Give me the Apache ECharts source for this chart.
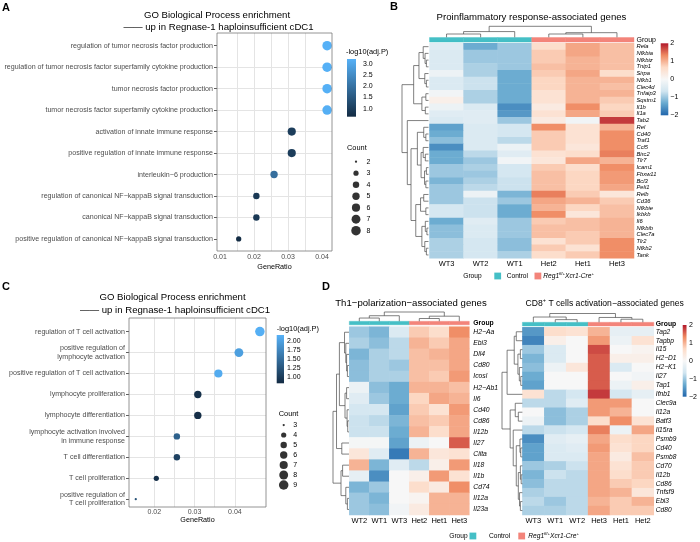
<!DOCTYPE html>
<html>
<head>
<meta charset="utf-8">
<script src="https://cdn.jsdelivr.net/npm/echarts@6/dist/echarts.min.js"></script>
<style>
  html, body { margin: 0; padding: 0; background: #fff; }
  #chart { width: 700px; height: 542px; }
</style>
</head>
<body>
<div id="chart"></div>
<script>
"use strict";
const FONT = '"Liberation Sans", Arial, Helvetica, sans-serif';
const GREY_TXT = '#4d4d4d';
const NAVY = ['#132B43', '#56B1F7'];
const RDBU = ['#2166AC', '#67A9CF', '#D1E5F0', '#F7F7F7', '#FDDBC7', '#EF8A62', '#B2182B'];
const GROUP_COLORS = ['#45BFC6', '#F3847A'];

// ---- panel A : GO enrichment dot plot ----
const termsA = [
  'regulation of tumor necrosis factor production',
  'regulation of tumor necrosis factor superfamily cytokine production',
  'tumor necrosis factor production',
  'tumor necrosis factor superfamily cytokine production',
  'activation of innate immune response',
  'positive regulation of innate immune response',
  'interleukin\u22126 production',
  'regulation of canonical NF\u2212kappaB signal transduction',
  'canonical NF\u2212kappaB signal transduction',
  'positive regulation of canonical NF\u2212kappaB signal transduction'
];
const ratioA = [0.0415, 0.0415, 0.0415, 0.0415, 0.0311, 0.0311, 0.0259, 0.0207, 0.0207, 0.0155];
const logpA = [3.22, 3.2, 3.2, 3.18, 0.98, 0.98, 1.93, 0.9, 0.9, 0.65];
const countA = [8, 8, 8, 8, 6, 6, 5, 4, 4, 3];
const ratioTicksA = [0.01, 0.02, 0.03, 0.04];
const padjTicksA = [1.0, 1.5, 2.0, 2.5, 3.0];
const countBreaksA = [2, 3, 4, 5, 6, 7, 8];

// ---- panel C : GO enrichment dot plot ----
const termsC = [
  'regulation of T cell activation',
  'positive regulation of\nlymphocyte activation',
  'positive regulation of T cell activation',
  'lymphocyte proliferation',
  'lymphocyte differentiation',
  'lymphocyte activation involved\nin immune response',
  'T cell differentiation',
  'T cell proliferation',
  'positive regulation of\nT cell proliferation'
];
const ratioC = [0.0462, 0.041, 0.0359, 0.0308, 0.0308, 0.0256, 0.0256, 0.0205, 0.0154];
const logpC = [2.14, 1.98, 2.1, 0.88, 0.85, 1.36, 1.05, 0.86, 1.2];
const countC = [9, 8, 7, 6, 6, 5, 5, 4, 3];
const ratioTicksC = [0.02, 0.03, 0.04];
const padjTicksC = [1.0, 1.25, 1.5, 1.75, 2.0];
const countBreaksC = [3, 4, 5, 6, 7, 8, 9];

const zTicks = [-2, -1, 0, 1, 2];

// ---- panel B : heatmap ----
const colsB = ['WT3', 'WT2', 'WT1', 'Het2', 'Het1', 'Het3'];
const genesB = ['Rela', 'Nfkbia', 'Nfkbiz', 'Tnip1', 'Sirpa', 'Nfkb1', 'Clec4d', 'Tnfaip3', 'Sqstm1', 'Il1b', 'Il1a',
  'Tab2', 'Rel', 'Cd40', 'Traf1', 'Ccl5', 'Birc2', 'Tlr7', 'Icam1', 'Fbxw11', 'Bcl3', 'Peli1', 'Relb', 'Cd36',
  'Nfkbie', 'Ikbkb', 'Il6', 'Nfkbib', 'Clec7a', 'Tlr2', 'Nfkb2', 'Tank'];
const valsB = [
  [-0.4, -1.3, -1.0, 0.6, 1.1, 0.9],
  [-0.5, -1.0, -1.0, 0.8, 1.1, 0.9],
  [-0.5, -1.0, -1.0, 0.8, 1.0, 0.9],
  [-0.5, -0.9, -1.0, 0.9, 1.0, 0.9],
  [-0.2, -0.9, -1.3, 0.8, 1.1, 0.6],
  [-0.5, -0.7, -1.3, 0.7, 1.0, 1.0],
  [-0.5, -0.7, -1.3, 0.7, 1.0, 0.9],
  [-0.1, -0.9, -1.3, 0.5, 1.0, 1.0],
  [0.2, -0.9, -1.3, 0.5, 1.0, 0.8],
  [-0.2, -0.5, -1.6, 0.3, 1.3, 0.7],
  [-0.4, -0.4, -1.5, 0.5, 1.1, 0.8],
  [-0.5, -0.4, -1.0, 0.3, -0.1, 1.8],
  [-1.4, -0.5, -0.6, 1.3, 0.5, 1.0],
  [-1.3, -0.5, -0.6, 0.8, 0.5, 1.3],
  [-1.1, -0.5, -0.8, 0.8, 0.5, 1.3],
  [-1.6, -0.5, -0.2, 0.8, 0.4, 1.3],
  [-1.3, -0.8, -0.4, 0.5, 0.6, 1.4],
  [-1.3, -1.0, -0.1, 0.4, 1.1, 1.0],
  [-1.0, -0.9, -0.6, 0.8, 0.6, 1.3],
  [-1.0, -1.0, -0.6, 0.9, 0.7, 1.2],
  [-1.2, -0.9, -0.7, 0.9, 0.7, 1.2],
  [-1.0, -0.8, -0.7, 0.9, 0.7, 1.1],
  [-1.0, -0.2, -1.2, 1.4, 0.8, 0.4],
  [-1.0, -0.7, -1.0, 1.1, 1.0, 0.8],
  [-0.6, -0.7, -1.3, 1.0, 0.7, 0.9],
  [-0.6, -0.7, -1.3, 1.3, 0.4, 0.9],
  [-1.3, -0.4, -1.0, 0.8, 0.9, 1.0],
  [-1.1, -0.5, -1.0, 0.9, 0.9, 1.0],
  [-1.1, -0.5, -1.0, 0.9, 0.8, 1.0],
  [-0.9, -0.6, -1.1, 0.5, 0.8, 1.3],
  [-0.9, -0.6, -1.1, 0.8, 0.5, 1.3],
  [-0.9, -0.6, -0.9, 0.6, 0.8, 1.3]
];
// dendrograms: leaf = row/col index, node = [left, right, height]
const rowTreeB = [
  [[[0, [1, [2, 3, 0.08], 0.13], 0.2], [4, [5, 6, 0.08], 0.14], 0.36], [[7, 8, 0.1], [9, 10, 0.12], 0.25], 0.56],
  [11, [[[12, [13, 14, 0.1], 0.18], [[15, [16, 17, 0.12], 0.2], [[18, 19, 0.08], [20, 21, 0.1], 0.15], 0.28], 0.42],
        [[[22, 23, 0.18], [24, 25, 0.1], 0.3], [[26, [27, 28, 0.06], 0.12], [29, [30, 31, 0.08], 0.14], 0.25], 0.48], 0.66], 0.8],
  1.0];
const colTreeB = [[[0, 1, 0.3], 2, 0.52], [[3, 4, 0.3], 5, 0.42], 1.0];

// ---- panel D : two heatmaps ----
const colsD1 = ['WT2', 'WT1', 'WT3', 'Het2', 'Het1', 'Het3'];
const genesD1 = ['H2\u2212Aa', 'Ebi3', 'Dll4', 'Cd80', 'Icosl', 'H2\u2212Ab1', 'Il6', 'Cd40', 'Cd86', 'Il12b', 'Il27',
  'Ciita', 'Il18', 'Il1b', 'Cd74', 'Il12a', 'Il23a'];
const valsD1 = [
  [-1.0, -1.2, -0.5, 0.8, 0.6, 1.3],
  [-0.9, -1.1, -0.8, 1.0, 0.8, 1.1],
  [-1.2, -0.9, -0.8, 0.9, 1.0, 1.1],
  [-1.1, -0.9, -1.0, 0.9, 0.9, 1.1],
  [-1.1, -0.9, -0.9, 0.9, 0.8, 1.2],
  [-0.2, -1.1, -1.3, 1.0, 1.0, 0.9],
  [-0.4, -1.0, -1.3, 0.7, 1.1, 1.0],
  [-0.6, -0.6, -1.4, 0.8, 0.5, 1.2],
  [-0.7, -0.8, -1.2, 0.9, 0.8, 1.1],
  [-0.7, -0.7, -1.3, 1.0, 0.6, 1.1],
  [-0.05, -0.05, -1.4, -0.2, 0.0, 1.6],
  [0.4, -0.4, -1.8, 1.0, 0.4, 0.5],
  [1.0, -1.2, -0.4, -0.8, 0.2, 1.2],
  [-0.3, -1.6, 0.0, 0.2, 1.2, 0.5],
  [-1.2, -1.0, 0.0, 0.6, 0.3, 1.3],
  [-1.0, -1.2, 0.0, 0.1, 1.0, 1.0],
  [-1.0, -1.1, -0.1, 0.3, 1.0, 1.0]
];
const rowTreeD1 = [
  [[[0, [1, [2, [3, 4, 0.1], 0.15], 0.2], 0.28], [[5, 6, 0.15], [7, [8, 9, 0.08], 0.12], 0.25], 0.6], [10, 11, 0.45], 0.78],
  [[12, 13, 0.4], [14, [15, 16, 0.1], 0.2], 0.5],
  1.0];
const colTreeD1 = [[[0, 1, 0.35], 2, 0.6], [[3, 4, 0.3], 5, 0.55], 1.0];

const colsD2 = ['WT3', 'WT1', 'WT2', 'Het3', 'Het1', 'Het2'];
const genesD2 = ['Tap2', 'Tapbp', 'Il15', 'H2\u2212D1', 'H2\u2212K1', 'Il27', 'Tap1', 'Ifnb1', 'Clec9a', 'Il12a', 'Batf3',
  'Il15ra', 'Psmb9', 'Cd40', 'Psmb8', 'Cd70', 'Il12b', 'Cd86', 'Tnfsf9', 'Ebi3', 'Cd80'];
const valsD2 = [
  [-1.5, 0.6, 0.5, 1.0, -0.3, -0.3],
  [-1.7, 0.2, 0.0, 1.2, -0.2, 0.5],
  [-1.0, -0.5, 0.0, 1.7, 0.0, 0.1],
  [-1.2, -0.5, 0.0, 1.6, 0.2, 0.2],
  [-1.1, -0.2, 0.4, 1.6, -0.5, 0.0],
  [-1.3, 0.0, 0.0, 1.6, 0.0, -0.1],
  [-1.4, 0.0, 0.0, 1.6, -0.2, 0.2],
  [0.5, -0.8, -0.6, 1.8, -0.6, -0.3],
  [-0.8, -0.8, -0.4, 1.2, 1.2, 0.0],
  [0.0, -1.1, -0.9, 1.2, 1.0, 0.0],
  [-0.2, -1.1, -0.9, 0.6, 1.3, 0.5],
  [-0.8, -0.7, -0.6, 1.4, -0.2, 1.1],
  [-1.6, -0.4, -0.3, 1.1, 0.6, 0.7],
  [-1.4, -0.5, -0.4, 1.2, 0.5, 0.7],
  [-1.4, -0.5, -0.5, 1.1, 0.3, 0.9],
  [-1.0, -0.9, -0.7, 1.1, 0.5, 0.8],
  [-1.2, -0.7, -0.8, 1.1, 0.6, 0.8],
  [-1.1, -0.8, -0.8, 1.1, 0.8, 0.7],
  [-0.9, -0.8, -0.8, 1.1, 1.0, 0.4],
  [-0.8, -1.0, -0.8, 1.0, 0.8, 1.0],
  [-0.9, -0.9, -0.8, 1.1, 0.8, 0.8]
];
const rowTreeD2 = [
  [[[0, 1, 0.3], [[2, 3, 0.1], [4, [5, 6, 0.08], 0.15], 0.22], 0.4], 7, 0.75],
  [[8, [9, 10, 0.2], 0.35], [11, [[12, [13, 14, 0.08], 0.12], [[15, [16, 17, 0.06], 0.1], [18, [19, 20, 0.1], 0.14], 0.2], 0.3], 0.45], 0.6],
  1.0];
const colTreeD2 = [[0, [1, 2, 0.3], 0.6], [3, [4, 5, 0.35], 0.55], 1.0];

// ------------------------------------------------------------------
const grids = [], xAxes = [], yAxes = [], series = [], graphics = [], visualMaps = [];
const heatSeries = [];

function addGrid(r) {
  grids.push({left: r.left, top: r.top, width: r.width, height: r.height, containLabel: false, show: false});
  return grids.length - 1;
}
function areaSize(breaks, k, c) {
  const lo = Math.min(...breaks), hi = Math.max(...breaks);
  return n => k * (1 + 5 * Math.sqrt((n - lo) / (hi - lo))) + c;
}
// major breaks plus ggplot-style minor breaks half way between them
function withMinor(ticks, lo, hi) {
  const step = ticks[1] - ticks[0];
  const out = ticks.slice();
  for (let i = -1; i < ticks.length; i++) {
    const m = ticks[0] + (i + 0.5) * step;
    if (m > lo && m < hi) out.push(+m.toFixed(6));
  }
  return out.sort((a, b) => a - b);
}
function txt(x, y, text, o) {
  graphics.push({type: 'text', silent: true, z: 60, style: Object.assign({
    x, y, text, fontFamily: FONT, fontSize: 9.6, fill: '#000',
    textAlign: 'left', align: 'left', textVerticalAlign: 'middle', verticalAlign: 'middle'}, o || {})});
}
function box(x, y, w, h, fill, stroke) {
  graphics.push({type: 'rect', silent: true, z: 50, shape: {x, y, width: w, height: h},
    style: {fill: fill || 'none', stroke: stroke || 'none', lineWidth: 0.8}});
}

function dotPlot(p) {
  const g = addGrid(p.rect);
  const xi = xAxes.push({
    gridIndex: g, type: 'value', min: p.xMin, max: p.xMax,
    axisLine: {show: false},
    axisTick: {show: false, customValues: withMinor(p.xTicks, p.xMin, p.xMax)},
    axisLabel: {margin: p.labelMargin, fontSize: 7, color: GREY_TXT, fontFamily: FONT,
      customValues: p.xTicks, formatter: v => v.toFixed(2)},
    splitLine: {show: true, showMinLine: false, showMaxLine: false, lineStyle: {color: '#e4e4e4', width: 1}},
    name: 'GeneRatio', nameLocation: 'middle', nameGap: p.nameGap,
    nameTextStyle: {fontSize: 7.2, color: '#000', fontFamily: FONT}
  }) - 1;
  const idx = p.terms.map((t, i) => i + 1);
  const yi = yAxes.push({
    gridIndex: g, type: 'value', min: p.yMin, max: p.yMax, inverse: true,
    axisLine: {show: false},
    axisTick: {show: true, length: 3, customValues: idx, lineStyle: {color: '#333', width: 0.8}},
    axisLabel: {margin: 4, fontSize: 7.1, lineHeight: 8.5, color: GREY_TXT, fontFamily: FONT, customValues: idx,
      formatter: v => p.terms[Math.round(v) - 1] || ''},
    splitLine: {show: true, showMinLine: false, showMaxLine: false, lineStyle: {color: '#e4e4e4', width: 1}}
  }) - 1;
  series.push({
    type: 'scatter', xAxisIndex: xi, yAxisIndex: yi, silent: true, z: 3,
    data: p.ratio.map((r, i) => [r, i + 1, p.logp[i], p.count[i]]),
    symbolSize: v => p.size(v[3]), itemStyle: {opacity: 1}
  });
  visualMaps.push({type: 'continuous', show: false, seriesIndex: series.length - 1, dimension: 2,
    min: p.pMin, max: p.pMax, inRange: {color: NAVY}});
  box(p.rect.left, p.rect.top, p.rect.width, p.rect.height, 'none', '#7a7a7a');
}

function colorBar(p) {
  const g = addGrid(p.rect);
  const xi = xAxes.push({gridIndex: g, type: 'value', min: 0, max: 1, show: false}) - 1;
  const yi = yAxes.push({
    gridIndex: g, type: 'value', min: p.min, max: p.max, position: 'right',
    axisLine: {show: false}, axisTick: {show: false, customValues: p.ticks}, splitLine: {show: false},
    axisLabel: {margin: p.margin, fontSize: 7, color: '#000', fontFamily: FONT,
      customValues: p.ticks, formatter: v => p.fmt(v)}
  }) - 1;
  const n = p.colors.length;
  const stops = p.colors.map((c, i) => ({offset: i / (n - 1), color: p.colors[n - 1 - i]}));
  series.push({
    type: 'custom', xAxisIndex: xi, yAxisIndex: yi, silent: true, clip: false,
    data: [[0, p.min, 1, p.max]],
    renderItem: (params, api) => {
      const a = api.coord([api.value(0), api.value(3)]);
      const b = api.coord([api.value(2), api.value(1)]);
      return {type: 'rect', shape: {x: a[0], y: a[1], width: b[0] - a[0], height: b[1] - a[1]},
        style: {fill: new echarts.graphic.LinearGradient(0, 0, 0, 1, stops)}};
    }
  });
}

function countLegend(p) {
  const g = addGrid({left: p.x - 5, top: p.top, width: 10, height: p.step * p.breaks.length});
  const xi = xAxes.push({gridIndex: g, type: 'value', min: 0, max: 1, show: false}) - 1;
  const yi = yAxes.push({
    gridIndex: g, type: 'category', data: p.breaks.map(String), inverse: true, position: 'right',
    axisLine: {show: false}, axisTick: {show: false}, splitLine: {show: false},
    axisLabel: {margin: p.margin, fontSize: 7, color: '#000', fontFamily: FONT, interval: 0}
  }) - 1;
  series.push({type: 'scatter', xAxisIndex: xi, yAxisIndex: yi, silent: true,
    data: p.breaks.map((b, i) => [0.5, i, b]), symbolSize: v => p.size(v[2]), itemStyle: {color: '#000'}});
}

function treeSegs(node, segs) {
  if (typeof node === 'number') return {x: node + 0.5, h: 0};
  const a = treeSegs(node[0], segs), b = treeSegs(node[1], segs), h = node[2];
  segs.push([[a.x, a.h], [a.x, h], [b.x, h], [b.x, b.h]]);
  return {x: (a.x + b.x) / 2, h};
}

function dendro(rect, tree, nLeaves, orient) {
  const segs = [];
  const root = treeSegs(tree, segs);
  const g = addGrid(rect);
  let xi, yi, data;
  if (orient === 'top') {
    xi = xAxes.push({gridIndex: g, type: 'value', min: 0, max: nLeaves, show: false}) - 1;
    yi = yAxes.push({gridIndex: g, type: 'value', min: 0, max: root.h, show: false}) - 1;
    data = segs.map(s => ({coords: s}));
  } else {
    xi = xAxes.push({gridIndex: g, type: 'value', min: 0, max: root.h, inverse: true, show: false}) - 1;
    yi = yAxes.push({gridIndex: g, type: 'value', min: 0, max: nLeaves, inverse: true, show: false}) - 1;
    data = segs.map(s => ({coords: s.map(pt => [pt[1], pt[0]])}));
  }
  series.push({type: 'lines', coordinateSystem: 'cartesian2d', xAxisIndex: xi, yAxisIndex: yi,
    polyline: true, silent: true, clip: false, data,
    lineStyle: {color: '#4a4a4a', width: 0.7, opacity: 1}});
}

function cellRect(params, api) {
  const c = api.coord([api.value(0), api.value(1)]);
  const s = api.size([1, 1]);
  const col = GROUP_COLORS[api.value(2)];
  return {type: 'rect', shape: {x: c[0] - s[0] / 2, y: c[1] - s[1] / 2, width: s[0], height: s[1]},
    style: {fill: col, stroke: col, lineWidth: 0.4}};
}

function heatPanel(p) {
  const g = addGrid(p.rect);
  const xi = xAxes.push({
    gridIndex: g, type: 'category', data: p.cols, position: 'bottom',
    axisLine: {show: false}, axisTick: {show: false}, splitLine: {show: false},
    axisLabel: {margin: 2, fontSize: 7.5, color: '#000', fontFamily: FONT, interval: 0}
  }) - 1;
  const yi = yAxes.push({
    gridIndex: g, type: 'category', data: p.rows, inverse: true, position: 'right',
    axisLine: {show: false}, axisTick: {show: false}, splitLine: {show: false},
    axisLabel: {margin: p.rowMargin, fontSize: p.rowFont, fontStyle: 'italic', color: '#000', fontFamily: FONT, interval: 0}
  }) - 1;
  const data = [];
  p.values.forEach((row, r) => row.forEach((v, c) => data.push([c, r, v])));
  series.push({type: 'heatmap', xAxisIndex: xi, yAxisIndex: yi, data, silent: true, progressive: 0,
    emphasis: {disabled: true}});
  heatSeries.push(series.length - 1);

  // annotation bar
  const ga = addGrid(p.annot);
  const xa = xAxes.push({gridIndex: ga, type: 'category', data: p.cols, show: false}) - 1;
  const ya = yAxes.push({
    gridIndex: ga, type: 'category', data: ['Group'], position: 'right',
    axisLine: {show: false}, axisTick: {show: false}, splitLine: {show: false},
    axisLabel: {margin: p.rowMargin, fontSize: p.groupFont, fontWeight: p.groupWeight, color: '#000', fontFamily: FONT}
  }) - 1;
  series.push({type: 'custom', xAxisIndex: xa, yAxisIndex: ya, silent: true,
    data: p.cols.map((c, i) => [i, 0, c.indexOf('WT') === 0 ? 0 : 1]), renderItem: cellRect});

  dendro(p.colDendro, p.colTree, p.cols.length, 'top');
  dendro(p.rowDendro, p.rowTree, p.rows.length, 'left');
}

const fmtZ = v => (v < 0 ? '\u2212' : '') + Math.abs(v);

// ---------------- A ----------------
const sizeA = areaSize(countBreaksA, 1.45, 0.8);
dotPlot({
  rect: {left: 217, top: 33, width: 115, height: 218},
  xMin: 0.00912, xMax: 0.04294, yMin: 0.41, yMax: 10.56, xTicks: ratioTicksA,
  terms: termsA, ratio: ratioA, logp: logpA, count: countA,
  pMin: 0.64, pMax: 3.22, size: sizeA, labelMargin: 3, nameGap: 13
});
colorBar({rect: {left: 347, top: 59, width: 9, height: 57.7}, min: 0.64, max: 3.22, ticks: padjTicksA,
  colors: NAVY, margin: 7, fmt: v => v.toFixed(1)});
countLegend({x: 356, top: 155.95, step: 11.5, breaks: countBreaksA, size: sizeA, margin: 5.5});
txt(2, 8, 'A', {fontSize: 11, fontWeight: 'bold'});
txt(217, 15, 'GO Biological Process enrichment', {textAlign: 'center', align: 'center'});
txt(218.5, 27, '\u2014\u2014 up in Regnase-1 haploinsufficient cDC1', {textAlign: 'center', align: 'center'});
txt(346, 52, '-log10(adj.P)', {fontSize: 7.4});
txt(347, 148.3, 'Count', {fontSize: 7.4});

// ---------------- C ----------------
const sizeC = areaSize(countBreaksC, 1.45, 0.8);
dotPlot({
  rect: {left: 129, top: 318, width: 137, height: 189},
  xMin: 0.01372, xMax: 0.04772, yMin: 0.35, yMax: 9.37, xTicks: ratioTicksC,
  terms: termsC, ratio: ratioC, logp: logpC, count: countC,
  pMin: 0.82, pMax: 2.16, size: sizeC, labelMargin: 2, nameGap: 10
});
colorBar({rect: {left: 276.7, top: 335, width: 7.3, height: 48.3}, min: 0.82, max: 2.16, ticks: padjTicksC,
  colors: NAVY, margin: 3, fmt: v => v.toFixed(2)});
countLegend({x: 283.7, top: 420, step: 10, breaks: countBreaksC, size: sizeC, margin: 4.6});
txt(2, 287, 'C', {fontSize: 11, fontWeight: 'bold'});
txt(172.5, 297.3, 'GO Biological Process enrichment', {textAlign: 'center', align: 'center'});
txt(175, 310.7, '\u2014\u2014 up in Regnase-1 haploinsufficient cDC1', {textAlign: 'center', align: 'center'});
txt(276.7, 329, '-log10(adj.P)', {fontSize: 7.4});
txt(278.7, 414, 'Count', {fontSize: 7.4});

// ---------------- B ----------------
heatPanel({
  rect: {left: 429.5, top: 43.3, width: 204.5, height: 215},
  annot: {left: 429.5, top: 37.5, width: 204.5, height: 4.6},
  colDendro: {left: 429.5, top: 26.3, width: 204.5, height: 11},
  rowDendro: {left: 402, top: 43.3, width: 26.5, height: 215},
  cols: colsB, rows: genesB, values: valsB, rowTree: rowTreeB, colTree: colTreeB,
  rowFont: 5.8, rowMargin: 2.5, groupFont: 7, groupWeight: 'normal'
});
colorBar({rect: {left: 660.7, top: 43.3, width: 7.6, height: 72}, min: -2, max: 2, ticks: zTicks,
  colors: RDBU, margin: 2, fmt: fmtZ});
txt(390, 7, 'B', {fontSize: 11, fontWeight: 'bold'});
txt(531.5, 17, 'Proinflammatory response-associated genes', {textAlign: 'center', align: 'center'});

// ---------------- D ----------------
heatPanel({
  rect: {left: 349.3, top: 326.7, width: 120, height: 188.3},
  annot: {left: 349.3, top: 321.3, width: 120, height: 3.5},
  colDendro: {left: 349.3, top: 312, width: 120, height: 9.3},
  rowDendro: {left: 333, top: 326.7, width: 16, height: 188.3},
  cols: colsD1, rows: genesD1, values: valsD1, rowTree: rowTreeD1, colTree: colTreeD1,
  rowFont: 6.8, rowMargin: 4, groupFont: 6.8, groupWeight: 'bold'
});
heatPanel({
  rect: {left: 522.4, top: 327.3, width: 131.4, height: 187.7},
  annot: {left: 522.4, top: 322.3, width: 131.4, height: 3.7},
  colDendro: {left: 522.4, top: 313.5, width: 131.4, height: 8.8},
  rowDendro: {left: 502, top: 327.3, width: 20.4, height: 187.7},
  cols: colsD2, rows: genesD2, values: valsD2, rowTree: rowTreeD2, colTree: colTreeD2,
  rowFont: 6.6, rowMargin: 2, groupFont: 6.8, groupWeight: 'bold'
});
colorBar({rect: {left: 682.7, top: 325, width: 7.3, height: 71.7}, min: -2, max: 2, ticks: zTicks,
  colors: RDBU, margin: 2.5, fmt: fmtZ});
txt(322, 287, 'D', {fontSize: 11, fontWeight: 'bold'});
txt(411, 303.3, 'Th1\u2212polarization\u2212associated genes', {textAlign: 'center', align: 'center'});
txt(604.7, 303.3, '{t|CD8}{s|+}{t| T cells activation\u2212associated genes}', {
  textAlign: 'center', align: 'center',
  rich: {t: {fontSize: 8.6, fontFamily: FONT, fill: '#000', lineHeight: 11},
         s: {fontSize: 5.5, fontFamily: FONT, fill: '#000', verticalAlign: 'top', lineHeight: 11}}
});

visualMaps.push({type: 'continuous', show: false, seriesIndex: heatSeries, dimension: 2,
  min: -2, max: 2, inRange: {color: RDBU}});

// group legends
const regRich = {
  a: {fontSize: 6.6, fontStyle: 'italic', fontFamily: FONT, fill: '#000', lineHeight: 9},
  b: {fontSize: 4.4, fontStyle: 'italic', fontFamily: FONT, fill: '#000', verticalAlign: 'top', lineHeight: 9}
};
function groupLegend(y, gx, s1, t1, s2, t2) {
  txt(gx, y, 'Group', {fontSize: 6.6});
  box(s1, y - 3.4, 6.8, 6.8, GROUP_COLORS[0]);
  txt(t1, y, 'Control', {fontSize: 6.6});
  box(s2, y - 3.4, 6.8, 6.8, GROUP_COLORS[1]);
  txt(t2, y, '{a|Reg1}{b|fl/+}{a|Xcr1-Cre}{b|+}', {rich: regRich});
}
groupLegend(276, 463.3, 494.3, 506.7, 534.5, 543.3);
groupLegend(536, 449.3, 469.5, 489, 518.3, 528.3);

const chart = echarts.init(document.getElementById('chart'), null, {renderer: 'canvas'});
chart.setOption({
  animation: false,
  backgroundColor: '#fff',
  grid: grids,
  xAxis: xAxes,
  yAxis: yAxes,
  visualMap: visualMaps,
  series: series,
  graphic: {elements: graphics}
});
</script>
</body>
</html>
